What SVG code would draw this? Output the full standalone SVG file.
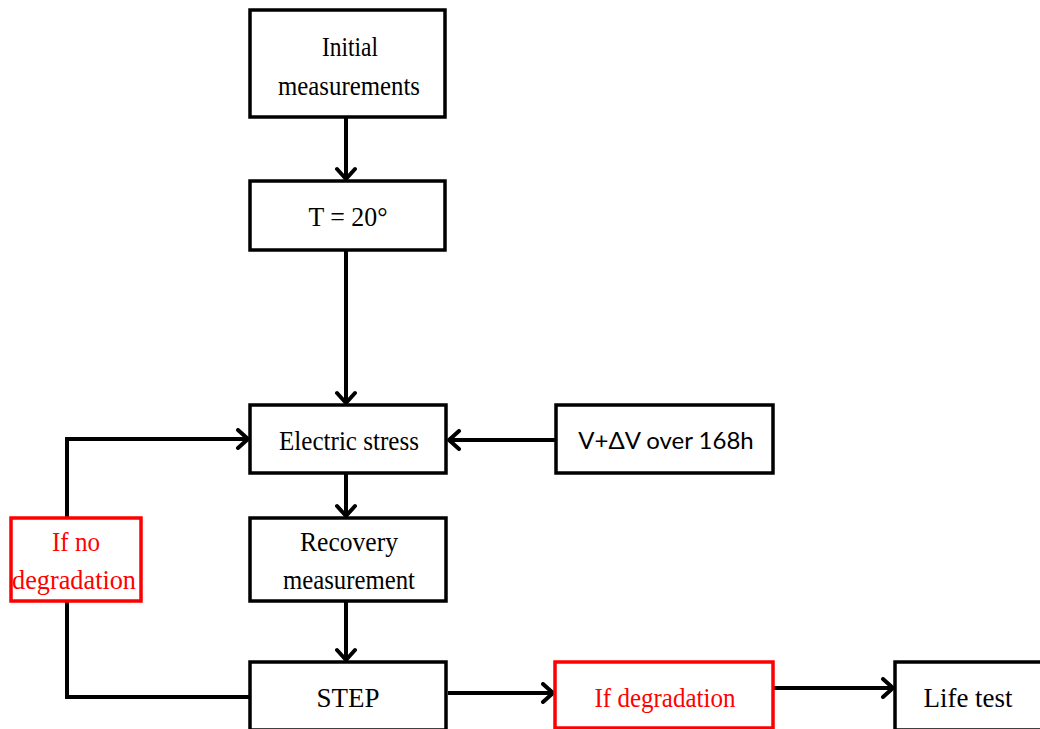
<svg xmlns="http://www.w3.org/2000/svg" width="1040" height="729" viewBox="0 0 1040 729">
<defs>
<marker id="arr" viewBox="0 0 16 22" refX="13" refY="11" markerWidth="16" markerHeight="22" markerUnits="userSpaceOnUse" orient="auto">
<path d="M3,2 L13,11 L3,20" fill="none" stroke="#000" stroke-width="4" stroke-linecap="round" stroke-linejoin="round"/>
</marker>
<style>
.box{fill:#fff;stroke:#000;stroke-width:3.5}
.rbox{fill:#fff;stroke:#f00;stroke-width:3.5}
.t{font-family:"Liberation Serif","Times New Roman",serif;font-size:27px;fill:#000;text-anchor:middle}
.r{fill:#f00}
.s{font-family:Lato,"Open Sans",sans-serif;font-size:24px;fill:#000;text-anchor:middle}
.c{fill:none;stroke:#000;stroke-width:4}
</style>
</defs>
<g id="connectors">
<line class="c" x1="346" y1="117" x2="346" y2="179" marker-end="url(#arr)"/>
<line class="c" x1="346" y1="250" x2="346" y2="403" marker-end="url(#arr)"/>
<line class="c" x1="346" y1="473" x2="346" y2="516" marker-end="url(#arr)"/>
<line class="c" x1="346" y1="601" x2="346" y2="660" marker-end="url(#arr)"/>
<line class="c" x1="556" y1="440" x2="449" y2="440" marker-end="url(#arr)"/>
<polyline class="c" points="250,697 67,697 67,601"/>
<polyline class="c" points="67,518 67,439 248,439" marker-end="url(#arr)"/>
<line class="c" x1="448" y1="693" x2="553" y2="693" marker-end="url(#arr)"/>
<line class="c" x1="773" y1="688" x2="893" y2="688" marker-end="url(#arr)"/>
</g>
<g id="initial"><rect class="box" x="250" y="10" width="195" height="107"/><text class="t" x="350" y="56" textLength="56" lengthAdjust="spacingAndGlyphs">Initial</text><text class="t" x="349" y="95" textLength="142" lengthAdjust="spacingAndGlyphs">measurements</text></g>
<g id="temp"><rect class="box" x="250" y="181" width="195" height="69"/><text class="t" x="348" y="226" textLength="79" lengthAdjust="spacingAndGlyphs">T = 20°</text></g>
<g id="stress"><rect class="box" x="250" y="405" width="196" height="68"/><text class="t" x="349" y="450" textLength="140" lengthAdjust="spacingAndGlyphs">Electric stress</text></g>
<g id="voltage"><rect class="box" x="556" y="405" width="217" height="68"/><text class="s" x="666" y="449">V+ΔV over 168h</text></g>
<g id="recovery"><rect class="box" x="250" y="518" width="196" height="83"/><text class="t" x="349" y="551" textLength="98" lengthAdjust="spacingAndGlyphs">Recovery</text><text class="t" x="349" y="589" textLength="132" lengthAdjust="spacingAndGlyphs">measurement</text></g>
<g id="nodeg"><rect class="rbox" x="11" y="518" width="130" height="83"/><text class="t r" x="76" y="551" textLength="48" lengthAdjust="spacingAndGlyphs">If no</text><text class="t r" x="74" y="589" textLength="124" lengthAdjust="spacingAndGlyphs">degradation</text></g>
<g id="step"><rect class="box" x="250" y="662" width="196" height="68"/><text class="t" x="348" y="707" textLength="63" lengthAdjust="spacingAndGlyphs">STEP</text></g>
<g id="deg"><rect class="rbox" x="555" y="662" width="218" height="66"/><text class="t r" x="665" y="707" textLength="141" lengthAdjust="spacingAndGlyphs">If degradation</text></g>
<g id="life"><rect class="box" x="895" y="662" width="147" height="68"/><text class="t" x="968" y="707" textLength="89" lengthAdjust="spacingAndGlyphs">Life test</text></g>
</svg>
